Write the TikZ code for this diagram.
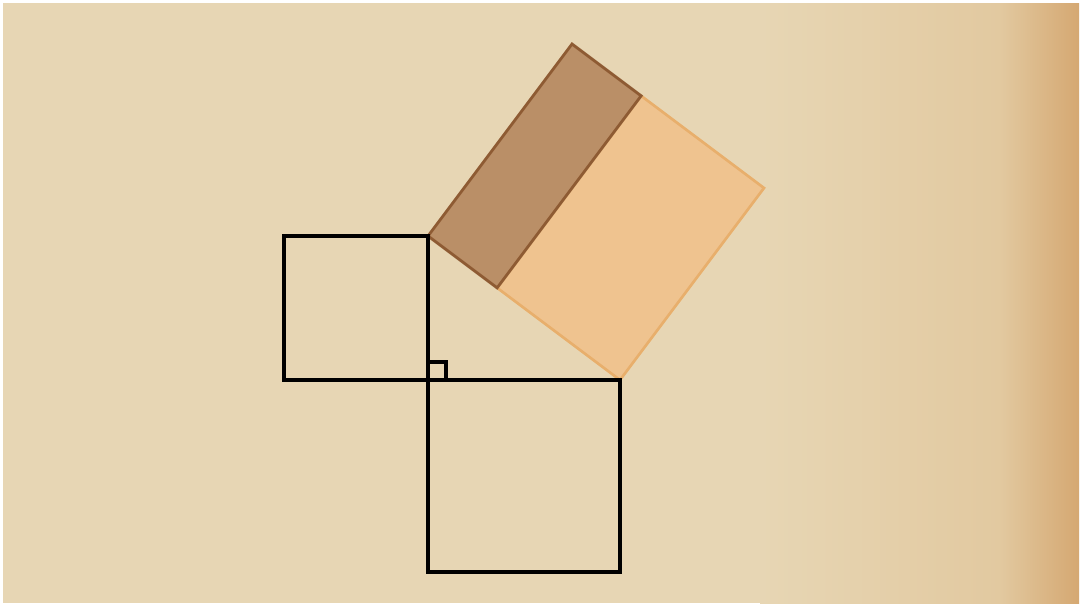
\documentclass[tikz,border=0pt]{standalone}
\usetikzlibrary{calc}
\definecolor{paper}{HTML}{E7D6B4}
\definecolor{papermid}{HTML}{E2C9A0}
\definecolor{paperdark}{HTML}{D5A872}
\definecolor{lightfill}{HTML}{EFC38F}
\definecolor{lightline}{HTML}{E8AF6C}
\definecolor{darkfill}{HTML}{BA8F67}
\definecolor{darkline}{HTML}{8E5B33}
\tikzset{
  side/.style={draw=black,line width=2pt,line join=miter},
  bigpart/.style={fill=lightfill,draw=lightline,line width=1.5pt},
  strippart/.style={fill=darkfill,draw=darkline,line width=1.6pt},
}
\begin{document}
\begin{tikzpicture}[x=0.02cm,y=-0.02cm]
    % paper
    \fill[white] (0,0) rectangle (1081,605);
    \useasboundingbox (0,0) rectangle (1081,605);
    \fill[paper] (3,3) rectangle (1079,603);
    \shade[left color=paper,right color=papermid] (760,3) rectangle (1000,603);
    \shade[left color=papermid,right color=paperdark] (999,3) rectangle (1079,603);
    % corners of the triangle and of the square on the hypotenuse
    \coordinate (a) at (428,236);
    \coordinate (r) at (428,380);
    \coordinate (b) at (620,380);
    \coordinate (c) at ($(b)+(144,-192)$);
    \coordinate (d) at ($(a)+(144,-192)$);
    \coordinate (p) at ($(a)!0.36!(b)$);
    \coordinate (q) at ($(d)!0.36!(c)$);
    % square on the hypotenuse
    \draw [bigpart] (p) -- (b) -- (c) -- (q) -- cycle;
    \draw [strippart] (a) -- (p) -- (q) -- (d) -- cycle;
    % squares on the legs
    \draw [side] (a) rectangle ($(r)+(-144,0)$);
    \draw [side] (r) rectangle ($(b)+(0,192)$);
    % right angle
    \draw [side] ($(r)+(0,-18)$) -- ($(r)+(18,-18)$) -- ($(r)+(18,0)$);
\end{tikzpicture}
\end{document}
